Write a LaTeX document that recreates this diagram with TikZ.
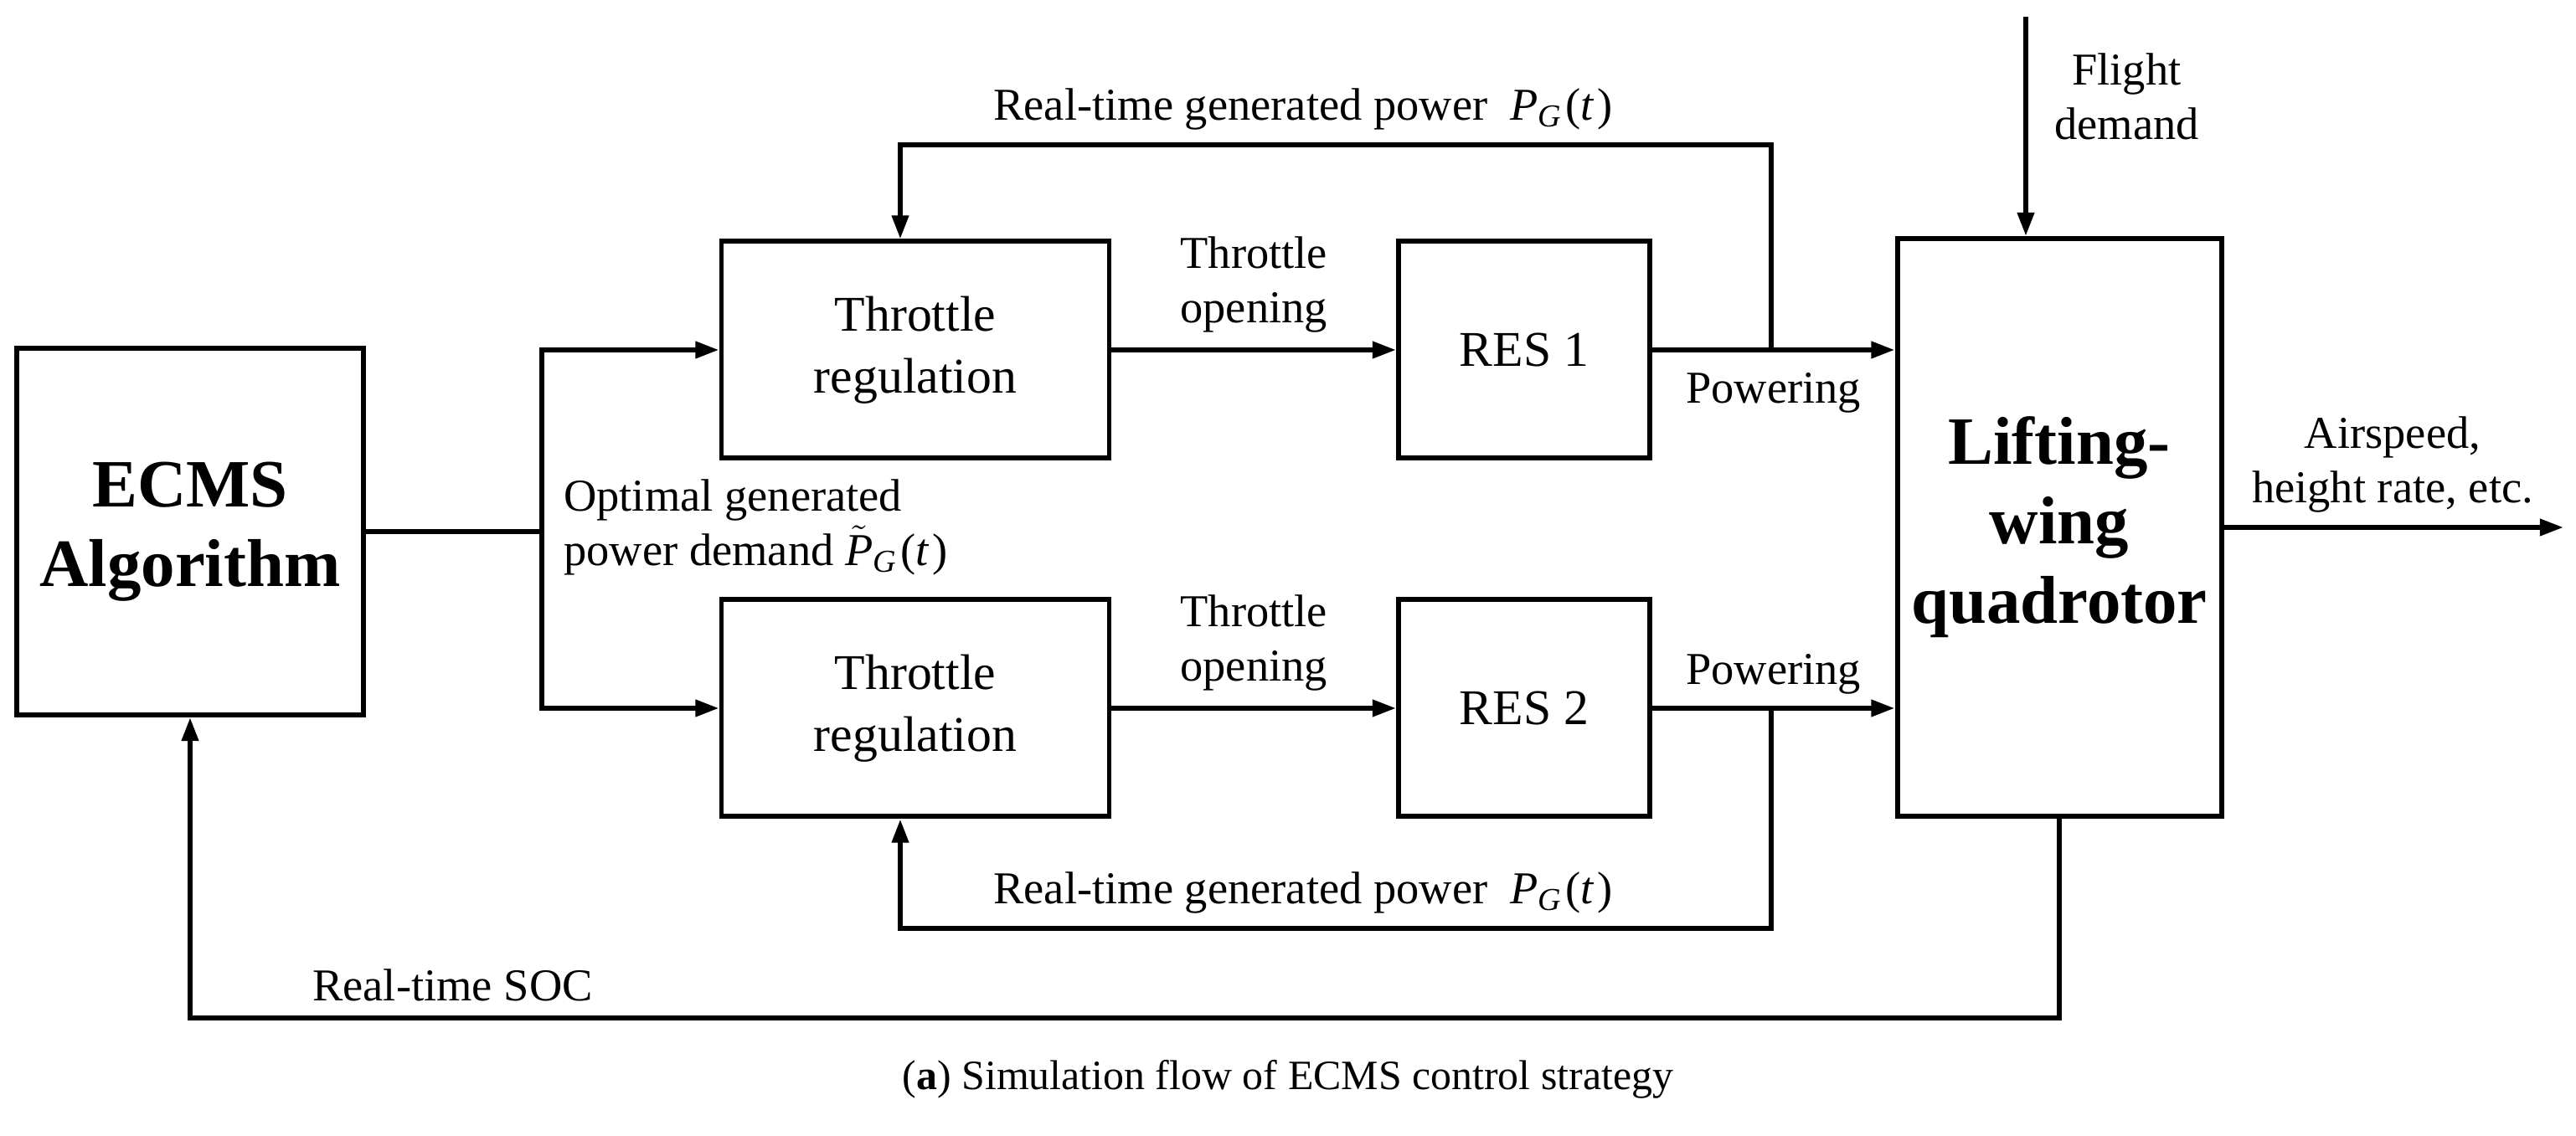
\documentclass[tikz,border=0pt]{standalone}
\usepackage{fontspec}
\setmainfont{Liberation Serif}
\usepackage{tikz}
\usetikzlibrary{arrows.meta}
\newcommand\pg{\textit{P}\textsubscript{\textit{G}}\kern1pt(\textit{t}\kern1pt)}
\newcommand\pgt{$\tilde{\textit{P}}$\textsubscript{\textit{G}}\kern1pt(\textit{t}\kern1pt)}
\tikzstyle{blk}=[draw,line width=1.7pt,align=center,inner sep=2pt,font=\fontsize{17}{21}\selectfont]
\tikzstyle{blkb}=[blk,font=\fontsize{23}{27}\selectfont\bfseries]
\tikzstyle{lbl}=[font=\fontsize{15.5}{18.5}\selectfont,align=center,inner sep=3pt]
\tikzstyle{ln}=[line width=1.7pt]
\tikzstyle{sig}=[ln,-{Triangle[length=8pt,width=5.5pt]}]

\begin{document}
\begin{tikzpicture}
	\useasboundingbox (0,0) rectangle (30.76,13.57);
	% blocks
	\node[blkb,minimum width=4.14cm,minimum height=4.38cm] (ecms) at (2.27,7.22) {ECMS\\Algorithm};
	\node[blk,minimum width=4.63cm,minimum height=2.59cm] (thr1) at (10.93,9.39) {Throttle\\regulation};
	\node[blk,minimum width=4.63cm,minimum height=2.59cm] (thr2) at (10.93,5.11) {Throttle\\regulation};
	\node[blk,minimum width=3.0cm,minimum height=2.59cm] (res1) at (18.20,9.39) {RES 1};
	\node[blk,minimum width=3.0cm,minimum height=2.59cm] (res2) at (18.20,5.11) {RES 2};
	\node[blkb,minimum width=3.87cm,minimum height=6.9cm] (lift) at (24.59,7.27) {Lifting-\\wing\\quadrotor};
	% branch points and free ends
	\coordinate (jn) at (6.47,7.22);
	\coordinate (fb1) at (21.15,9.39);
	\coordinate (fb2) at (21.15,5.11);
	\coordinate (fbtop) at (21.15,11.84);
	\coordinate (fbbot) at (21.15,2.48);
	\coordinate (soc) at (24.59,1.41);
	\coordinate (fd) at (24.19,13.37);
	\coordinate (out) at (30.61,7.23);
	% forward path
	\draw[ln] (ecms.east |- jn) -- (jn);
	\draw[sig] (jn) |- (thr1.west);
	\draw[sig] (jn) |- (thr2.west);
	\draw[sig] (thr1) -- node[lbl,above=2pt] (tho1) {Throttle\\opening} (res1);
	\draw[sig] (thr2) -- node[lbl,above=2pt] (tho2) {Throttle\\opening} (res2);
	\draw[sig] (res1.east) -- node[lbl,below=4pt] (pw1) {Powering} (res1.east -| lift.west);
	\draw[sig] (res2.east) -- node[lbl,above=1pt] (pw2) {Powering} (res2.east -| lift.west);
	\draw[sig] (fd) -- (fd |- lift.north);
	\draw[sig] (lift.east) -- (lift.east -| out);
	% feedback paths
	\draw[sig] (fb1) -- (fbtop) -| ([xshift=-0.18cm]thr1.north);
	\draw[sig] (fb2) -- (fbbot) -| ([xshift=-0.18cm]thr2.south);
	\draw[sig] (lift.south) -- (soc) -| (ecms.south);
	% labels
	\node[lbl,anchor=south] (rtp1) at (15.56,11.9) {Real-time generated power \ \pg};
	\node[lbl,anchor=south] (rtp2) at (15.56,2.54) {Real-time generated power \ \pg};
	\node[lbl,anchor=west,align=left] (opt) at (6.62,7.27) {Optimal generated\\power demand \pgt};
	\node[lbl,anchor=west] (fdl) at (24.42,12.42) {Flight\\demand};
	\node[lbl,anchor=south] (asp) at (28.57,7.33) {Airspeed,\\height rate, etc.};
	\node[lbl,anchor=south west] (socl) at (3.62,1.5) {Real-time SOC};
	\node[font=\fontsize{14.2}{17}\selectfont] (cap) at (15.38,0.68) {(\textbf{a}) Simulation flow of ECMS control strategy};
\end{tikzpicture}
\end{document}
